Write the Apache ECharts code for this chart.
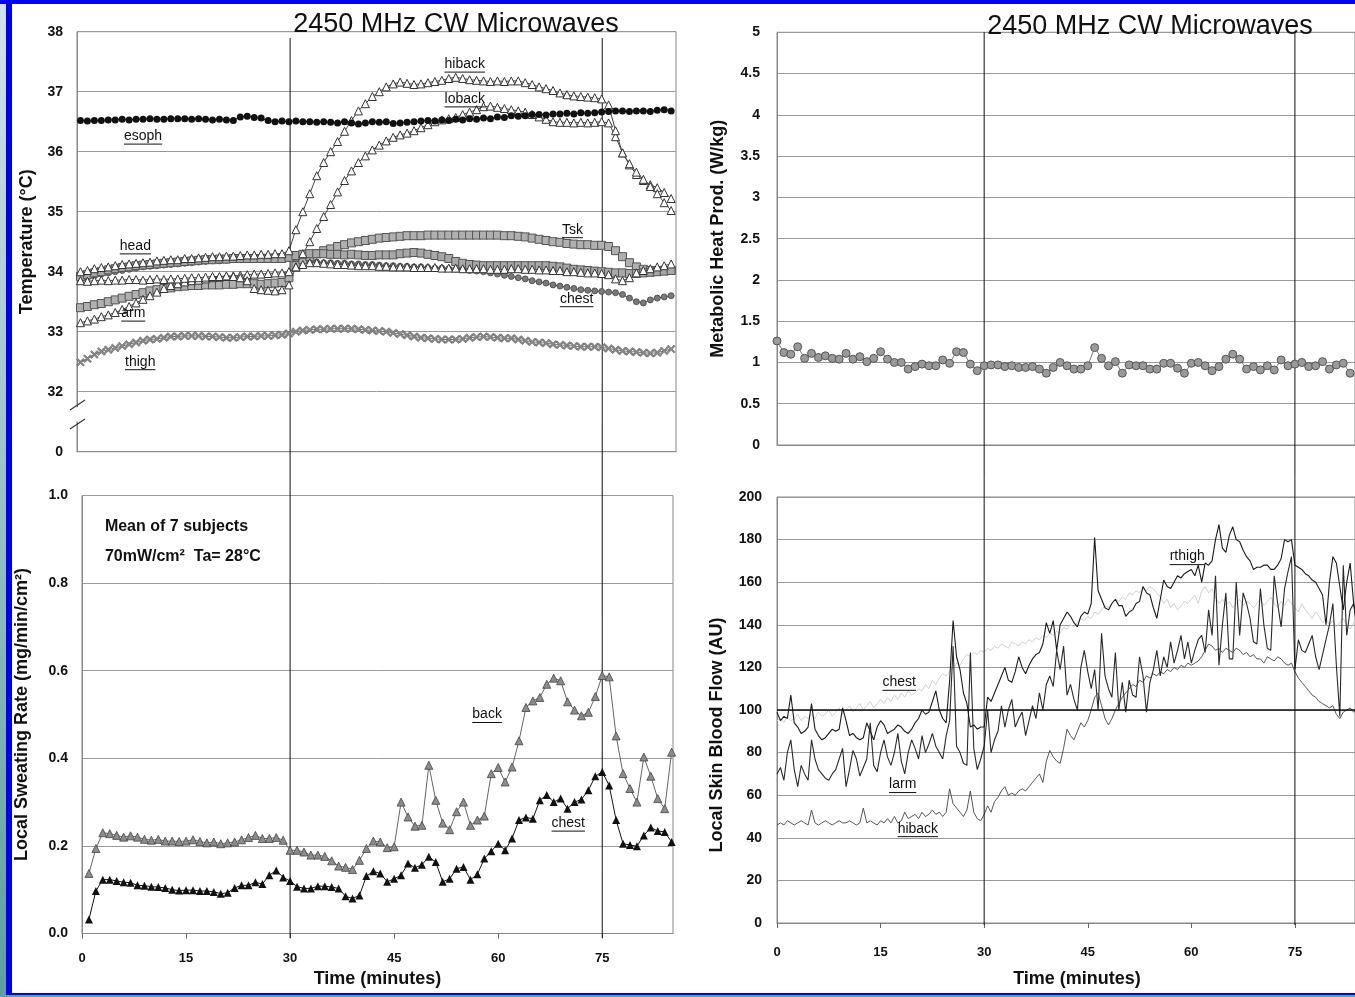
<!DOCTYPE html>
<html><head><meta charset="utf-8">
<script src="https://cdn.jsdelivr.net/npm/echarts@6/dist/echarts.min.js"></script>
<style>
html,body{margin:0;padding:0;width:1355px;height:997px;overflow:hidden;background:linear-gradient(#d3e2ec,#5f9f9f);}
#topbar{position:absolute;left:0;top:0;width:1355px;height:4px;background:#0000f0;}
#frame{position:absolute;left:6px;top:0;width:1349px;height:995px;box-sizing:border-box;border-left:6px solid #0000f0;border-top:4px solid #0000f0;border-bottom:2px solid #0000f0;background:#fff;}
#chart{position:absolute;left:0;top:0;width:1355px;height:997px;}
</style></head><body><div id="topbar"></div><div id="frame"></div><div id="chart"></div>
<script>
// ---------- DATA ----------
const tempMinutes = Array.from({length: 86}, (_, i) => i);
const tempTickLabels = ['0', '32', '33', '34', '35', '36', '37', '38']; // lowest tick is the broken-axis "0"
const esophTemp = [36.52,36.51,36.52,36.52,36.53,36.53,36.54,36.53,36.54,36.54,
  36.55,36.54,36.54,36.55,36.55,36.55,36.54,36.55,36.54,36.53,
  36.54,36.53,36.52,36.58,36.59,36.57,36.56,36.52,36.5,36.51,
  36.5,36.51,36.5,36.5,36.49,36.5,36.49,36.48,36.5,36.48,
  36.46,36.48,36.5,36.49,36.5,36.47,36.48,36.49,36.5,36.51,
  36.52,36.51,36.53,36.52,36.54,36.53,36.55,36.54,36.56,36.55,
  36.58,36.57,36.6,36.59,36.6,36.62,36.62,36.61,36.63,36.63,
  36.64,36.63,36.65,36.64,36.65,36.66,36.67,36.68,36.68,36.67,
  36.68,36.68,36.67,36.69,36.7,36.68];
const hibackTemp = [34.0,34.02,34.05,34.07,34.08,34.1,34.12,34.13,34.14,34.15,
  34.16,34.18,34.19,34.2,34.2,34.22,34.22,34.23,34.24,34.25,
  34.25,34.26,34.26,34.27,34.28,34.28,34.29,34.29,34.3,34.3,
  34.35,34.7,35.0,35.3,35.6,35.82,36.0,36.17,36.34,36.52,
  36.68,36.8,36.92,37.0,37.08,37.13,37.16,37.14,37.12,37.13,
  37.15,37.17,37.19,37.22,37.24,37.22,37.2,37.19,37.18,37.17,
  37.18,37.17,37.18,37.18,37.15,37.12,37.08,37.05,37.02,36.98,
  36.95,36.93,36.92,36.91,36.9,36.88,36.78,36.35,35.98,35.8,
  35.66,35.54,35.42,35.3,35.15,35.02];
const lobackTemp = [33.85,33.84,33.85,33.86,33.85,33.86,33.86,33.87,33.87,33.86,
  33.87,33.88,33.87,33.88,33.88,33.89,33.9,33.9,33.91,33.92,
  33.92,33.93,33.92,33.9,33.85,33.72,33.7,33.69,33.68,33.7,
  33.78,34.08,34.3,34.5,34.72,34.92,35.12,35.33,35.52,35.68,
  35.82,35.93,36.03,36.11,36.18,36.24,36.28,36.31,36.35,36.4,
  36.45,36.5,36.53,36.55,36.57,36.62,36.66,36.7,36.75,36.76,
  36.74,36.72,36.7,36.68,36.66,36.62,36.58,36.54,36.5,36.49,
  36.49,36.48,36.49,36.48,36.49,36.5,36.48,36.25,35.98,35.78,
  35.62,35.52,35.45,35.4,35.32,35.22];
const armTemp = [33.15,33.18,33.21,33.25,33.28,33.32,33.37,33.42,33.48,33.54,
  33.6,33.66,33.72,33.77,33.8,33.83,33.85,33.86,33.88,33.9,
  33.91,33.92,33.93,33.94,33.95,33.96,33.96,33.97,33.98,33.98,
  34.0,34.08,34.12,34.15,34.15,34.14,34.13,34.12,34.12,34.11,
  34.1,34.1,34.1,34.09,34.09,34.08,34.08,34.08,34.07,34.07,
  34.07,34.07,34.06,34.06,34.06,34.05,34.05,34.05,34.05,34.04,
  34.04,34.04,34.05,34.05,34.04,34.04,34.03,34.03,34.02,34.02,
  34.0,34.0,33.99,33.98,33.98,33.97,33.95,33.88,33.85,33.9,
  33.98,34.02,34.05,34.08,34.1,34.13];
const tskTemp = [33.4,33.42,33.45,33.47,33.5,33.53,33.56,33.59,33.62,33.65,
  33.68,33.7,33.72,33.73,33.75,33.76,33.77,33.77,33.78,33.78,
  33.78,33.79,33.79,33.8,33.8,33.8,33.79,33.8,33.81,33.82,
  33.9,34.1,34.2,34.25,34.3,34.35,34.38,34.42,34.45,34.48,
  34.5,34.52,34.54,34.56,34.57,34.58,34.59,34.6,34.6,34.6,
  34.61,34.61,34.61,34.61,34.61,34.61,34.61,34.61,34.61,34.61,
  34.61,34.6,34.6,34.59,34.58,34.56,34.54,34.52,34.5,34.49,
  34.47,34.46,34.45,34.45,34.44,34.44,34.42,34.35,34.25,34.15,
  34.08,34.04,34.02,34.02,34.02,34.02];
const headTemp = [33.92,33.95,33.98,34.0,34.03,34.05,34.07,34.08,34.1,34.11,
  34.12,34.13,34.14,34.15,34.16,34.17,34.18,34.19,34.2,34.2,
  34.21,34.21,34.22,34.22,34.22,34.22,34.22,34.22,34.22,34.22,
  34.24,34.27,34.29,34.3,34.3,34.3,34.29,34.29,34.28,34.29,
  34.28,34.27,34.27,34.28,34.28,34.28,34.3,34.31,34.32,34.31,
  34.29,34.27,34.25,34.22,34.17,34.14,34.12,34.11,34.1,34.1,
  34.1,34.1,34.1,34.1,34.1,34.1,34.1,34.1,34.09,34.08,
  34.06,34.04,34.03,34.02,34.01,34.0,33.99,33.98,33.98,33.97,
  33.97,33.98,33.99,34.0,34.01,34.02];
const chestTemp = [33.88,33.9,33.93,33.96,33.98,34.0,34.02,34.04,34.06,34.08,
  34.09,34.1,34.11,34.12,34.13,34.14,34.15,34.16,34.17,34.18,
  34.18,34.19,34.2,34.2,34.21,34.21,34.22,34.22,34.23,34.24,
  34.22,34.2,34.18,34.17,34.16,34.15,34.15,34.14,34.14,34.13,
  34.13,34.12,34.12,34.11,34.1,34.1,34.09,34.09,34.08,34.08,
  34.07,34.06,34.06,34.05,34.04,34.04,34.02,34.01,34.0,33.98,
  33.96,33.94,33.92,33.9,33.88,33.85,33.83,33.81,33.78,33.76,
  33.74,33.72,33.7,33.69,33.68,33.67,33.66,33.65,33.62,33.56,
  33.5,33.48,33.53,33.56,33.58,33.6];
const thighTemp = [32.49,32.55,32.62,32.67,32.7,32.73,32.76,32.79,32.82,32.85,
  32.87,32.88,32.9,32.92,32.92,32.93,32.93,32.93,32.92,32.92,
  32.91,32.9,32.9,32.91,32.92,32.92,32.93,32.93,32.94,32.95,
  32.97,33.0,33.02,33.03,33.04,33.04,33.05,33.05,33.05,33.05,
  33.04,33.03,33.02,33.01,33.0,32.98,32.96,32.94,32.92,32.9,
  32.89,32.88,32.87,32.87,32.87,32.88,32.9,32.91,32.92,32.91,
  32.9,32.89,32.89,32.87,32.85,32.83,32.82,32.81,32.79,32.78,
  32.77,32.76,32.75,32.75,32.75,32.74,32.72,32.7,32.68,32.67,
  32.66,32.65,32.64,32.65,32.68,32.71];

const sweatMinutes = Array.from({length: 85}, (_, i) => i + 1);
const sweatTickLabels = ['0.0', '0.2', '0.4', '0.6', '0.8', '1.0'];
const backSweat = [.137,.194,.23,.228,.224,.22,.223,.22,.215,.213,
  .215,.211,.211,.21,.211,.214,.21,.207,.209,.205,
  .207,.209,.214,.219,.224,.217,.217,.219,.213,.19,
  .19,.186,.179,.179,.176,.166,.154,.151,.146,.167,
  .194,.211,.209,.196,.198,.30,.266,.245,.247,.384,
  .304,.252,.237,.278,.30,.247,.259,.268,.365,.379,
  .346,.38,.44,.516,.531,.539,.569,.583,.577,.529,
  .51,.497,.505,.541,.589,.586,.451,.365,.331,.30,
  .403,.359,.308,.285,.414];
const chestSweat = [.032,.097,.123,.123,.120,.117,.116,.110,.109,.107,
  .106,.104,.100,.098,.099,.099,.097,.097,.095,.091,
  .093,.104,.110,.110,.117,.113,.133,.144,.128,.120,
  .107,.103,.103,.108,.108,.106,.103,.085,.080,.087,
  .131,.142,.137,.118,.125,.133,.160,.150,.157,.175,
  .163,.118,.125,.148,.152,.123,.135,.171,.188,.205,
  .190,.217,.259,.265,.262,.304,.316,.300,.308,.285,
  .300,.306,.327,.359,.369,.338,.259,.205,.202,.199,
  .224,.242,.234,.232,.209];

const metabMinutes = Array.from({length: 84}, (_, i) => i);
const metabTickLabels = ['0', '0.5', '1', '1.5', '2', '2.5', '3', '3.5', '4', '4.5', '5'];
const metabHeat = [1.26,1.12,1.10,1.19,1.05,1.11,1.06,1.08,1.05,1.04,
  1.11,1.04,1.07,1.01,1.05,1.13,1.04,1.00,1.00,0.92,
  0.95,0.98,0.96,0.96,1.03,0.99,1.13,1.12,0.98,0.90,
  0.96,0.97,0.97,0.95,0.96,0.94,0.94,0.95,0.92,0.87,
  0.94,1.00,0.96,0.92,0.92,0.96,1.18,1.05,0.96,1.01,
  0.87,0.97,0.96,0.96,0.92,0.92,0.99,0.99,0.93,0.87,
  0.99,1.00,0.96,0.90,0.95,1.04,1.10,1.04,0.92,0.95,
  0.91,0.96,0.91,1.03,0.96,0.98,1.00,0.95,0.96,1.01,
  0.92,0.97,0.99,0.87];

const flowMinutes = Array.from({length: 170}, (_, i) => i * 0.5);
const flowTickLabels = ['0', '20', '40', '60', '80', '100', '120', '140', '160', '180', '200'];
const timeTickLabels = ['0', '15', '30', '45', '60', '75', '90'];
const hibackFlow = [46,47,46,48,47,46,47,48,47,46, 53,47,46,47,48,47,46,47,48,47,
  47,48,47,46,47,54,47,48,47,46, 48,47,49,47,50,47,48,52,49,50,
  51,49,52,50,51,53,51,52,50,52, 63,56,54,52,50,53,62,52,49,48,
  51,55,52,57,59,62,64,60,61,60, 62,63,62,64,66,68,70,66,76,81,
  78,76,75,82,91,88,86,90,94,92, 95,100,106,108,102,96,93,96,100,103,
  106,108,110,112,111,114,113,116,115,117, 116,118,117,119,118,120,119,121,120,122,
  121,122,123,125,128,131,130,128,129,127, 129,128,127,129,128,126,127,125,126,124,
  124,122,125,124,123,125,124,122,121,122, 118,115,113,111,109,107,106,104,103,102,
  101,102,98,96,99,100,101,99,100,100];
const rthighFlow = [99,95,97,96,107,94,92,89,90,92, 103,91,88,86,87,89,91,90,91,101,
  95,88,89,87,86,87,94,90,86,92, 95,93,89,90,91,93,92,90,89,91,
  94,96,100,98,99,104,109,100,96,94, 114,142,125,119,108,103,92,93,91,92,
  92,106,104,108,112,116,120,114,113,118, 125,120,117,121,124,126,127,131,141,136,
  142,128,140,143,146,144,141,139,144,146, 145,150,181,156,152,148,147,150,152,149,
  149,144,146,147,150,151,158,155,154,148, 143,152,161,158,157,160,163,162,164,165,
  166,163,168,160,169,168,170,180,187,176, 174,182,186,180,179,175,172,170,166,167,
  167,168,168,166,166,168,171,180,179,180, 168,167,166,164,163,161,160,157,154,140,
  160,172,169,158,147,160,169,150,140,148];
const larmFlow = [70,73,67,80,86,72,64,74,70,67, 86,77,72,70,68,67,70,72,77,82,
  64,72,81,77,69,73,77,94,74,71, 80,86,78,74,80,89,76,70,80,86,
  82,77,88,80,84,89,83,80,77,88, 95,130,83,80,75,74,127,82,72,77,
  83,100,80,86,90,102,92,100,105,92, 96,99,88,95,102,96,108,100,112,116,
  111,128,119,130,107,112,105,100,120,128, 118,110,119,100,136,116,110,106,127,100,
  113,99,114,107,106,125,116,99,113,119, 128,116,125,120,132,122,128,135,124,132,
  122,128,133,135,127,147,135,163,121,140, 155,124,124,160,135,155,150,143,132,131,
  157,140,129,128,163,150,139,157,165,172, 119,133,128,127,131,135,125,119,126,133,
  140,150,121,97,168,135,147,150,138,145];
const chestFlow = [95,96,94,97,95,96,98,95,97,96, 98,96,99,97,98,100,97,99,101,98,
  100,102,99,101,103,100,102,104,101,103, 105,103,106,104,107,105,108,106,109,107,
  108,110,109,112,110,114,112,115,117,116, 118,120,122,121,124,126,125,127,126,128,
  127,129,128,130,129,131,130,129,132,131, 130,132,131,133,132,134,133,135,134,136,
  135,137,136,139,138,140,139,141,143,142, 144,143,146,145,147,149,148,150,152,151,
  153,152,155,154,156,155,157,156,158,157, 155,153,150,152,148,150,147,149,151,150,
  152,154,150,156,158,155,157,153,150,152, 149,151,148,150,152,149,151,150,148,150,
  152,149,151,153,150,148,151,149,152,150, 148,146,150,147,145,143,146,144,141,143,
  140,142,139,141,143,140,138,141,139,140];

const exposureMarks = [30, 75];
const titleText = '2450 MHz CW Microwaves';

const annotations = [
  {g: 0, t: 55.3, v: 37.46, text: 'hiback'},
  {g: 0, t: 55.3, v: 36.88, text: 'loback'},
  {g: 0, t: 9.0, v: 36.26, text: 'esoph'},
  {g: 0, t: 7.9, v: 34.43, text: 'head'},
  {g: 0, t: 70.8, v: 34.70, text: 'Tsk'},
  {g: 0, t: 71.4, v: 33.55, text: 'chest'},
  {g: 0, t: 7.6, v: 33.31, text: 'arm'},
  {g: 0, t: 8.6, v: 32.50, text: 'thigh'},
  {g: 1, t: 58.4, v: 0.50, text: 'back'},
  {g: 1, t: 70.1, v: 0.252, text: 'chest'},
  {g: 3, t: 59.4, v: 172, text: 'rthigh'},
  {g: 3, t: 17.7, v: 113, text: 'chest'},
  {g: 3, t: 18.2, v: 65, text: 'larm'},
  {g: 3, t: 20.4, v: 44.3, text: 'hiback'}
];
const notes = [
  {g: 1, t: 3.3, v: 0.930, text: 'Mean of 7 subjects'},
  {g: 1, t: 3.3, v: 0.860, text: '70mW/cm\u00B2  Ta= 28\u00B0C'}
];

// ---------- CHART ----------
const FF = '"Liberation Sans", Arial, sans-serif';
const pairs = (ts, vs) => ts.map((t, i) => [t, vs[i]]);
const tick = {color: '#111', fontWeight: 'bold', fontSize: 14, fontFamily: FF};
const nameStyle = {color: '#111', fontWeight: 'bold', fontSize: 18, fontFamily: FF};
const gridLine = {show: true, lineStyle: {color: '#9a9a9a', width: 1}};
const axLine = {show: true, onZero: false, lineStyle: {color: '#888', width: 1}};
const xPath = 'path://M0,1.5L1.5,0L5,3.5L8.5,0L10,1.5L6.5,5L10,8.5L8.5,10L5,6.5L1.5,10L0,8.5L3.5,5Z';
const RIGHT_MAX = 83.7; // the right-hand panels are cut off by the picture edge

function lineSeries(name, xi, data, opt) {
  return Object.assign({
    type: 'line', name, xAxisIndex: xi, yAxisIndex: xi, data,
    showSymbol: true, animation: false, silent: true,
  }, opt);
}

const series = [
  lineSeries('thigh', 0, pairs(tempMinutes, thighTemp), {symbol: xPath, symbolSize: 8,
    itemStyle: {color: '#8a8a8a', borderColor: '#555', borderWidth: 0.5}, lineStyle: {color: '#777', width: 1}}),
  lineSeries('chest', 0, pairs(tempMinutes, chestTemp), {symbol: 'circle', symbolSize: 6,
    itemStyle: {color: '#7a7a7a', borderColor: '#444', borderWidth: 0.8}, lineStyle: {color: '#555', width: 1}}),
  lineSeries('Tsk', 0, pairs(tempMinutes, tskTemp), {symbol: 'rect', symbolSize: 8,
    itemStyle: {color: '#b0b0b0', borderColor: '#555', borderWidth: 1}, lineStyle: {color: '#666', width: 1}}),
  lineSeries('head', 0, pairs(tempMinutes, headTemp), {symbol: 'rect', symbolSize: 8,
    itemStyle: {color: '#a8a8a8', borderColor: '#555', borderWidth: 1}, lineStyle: {color: '#666', width: 1}}),
  lineSeries('arm', 0, pairs(tempMinutes, armTemp), {symbol: 'triangle', symbolSize: 8,
    itemStyle: {color: '#fff', borderColor: '#333', borderWidth: 1}, lineStyle: {color: '#444', width: 1}}),
  lineSeries('loback', 0, pairs(tempMinutes, lobackTemp), {symbol: 'triangle', symbolSize: 8,
    itemStyle: {color: '#fff', borderColor: '#333', borderWidth: 1}, lineStyle: {color: '#444', width: 1}}),
  lineSeries('hiback', 0, pairs(tempMinutes, hibackTemp), {symbol: 'triangle', symbolSize: 8,
    itemStyle: {color: '#fff', borderColor: '#333', borderWidth: 1}, lineStyle: {color: '#444', width: 1}}),
  lineSeries('esoph', 0, pairs(tempMinutes, esophTemp), {symbol: 'circle', symbolSize: 7,
    itemStyle: {color: '#111'}, lineStyle: {color: '#111', width: 1}}),

  lineSeries('back', 1, pairs(sweatMinutes, backSweat), {symbol: 'triangle', symbolSize: 8,
    itemStyle: {color: '#8c8c8c', borderColor: '#444', borderWidth: 0.8}, lineStyle: {color: '#666', width: 1}}),
  lineSeries('chest sweat', 1, pairs(sweatMinutes, chestSweat), {symbol: 'triangle', symbolSize: 8,
    itemStyle: {color: '#111'}, lineStyle: {color: '#111', width: 1}}),

  lineSeries('metabolic', 2, pairs(metabMinutes, metabHeat), {symbol: 'circle', symbolSize: 8,
    itemStyle: {color: '#9a9a9a', borderColor: '#555', borderWidth: 1}, lineStyle: {color: '#777', width: 1}}),

  lineSeries('chest flow', 3, pairs(flowMinutes, chestFlow), {symbol: 'none', lineStyle: {color: '#d0d0d0', width: 1}}),
  lineSeries('larm', 3, pairs(flowMinutes, larmFlow), {symbol: 'none', lineStyle: {color: '#2a2a2a', width: 1.1}}),
  lineSeries('rthigh', 3, pairs(flowMinutes, rthighFlow), {symbol: 'none', lineStyle: {color: '#1a1a1a', width: 1.1}}),
  lineSeries('hiback flow', 3, pairs(flowMinutes, hibackFlow), {symbol: 'none', lineStyle: {color: '#444', width: 0.9},
    markLine: {symbol: 'none', silent: true, label: {show: false}, animation: false,
      lineStyle: {color: '#111', type: 'solid', width: 1.5}, data: [{yAxis: 100}]}})
];
exposureMarks.forEach(m => {
  series.push(lineSeries('exp-left-' + m, 4, [[m, 0], [m, 1]], {symbol: 'none', lineStyle: {color: '#111', width: 1}}));
  series.push(lineSeries('exp-right-' + m, 5, [[m, 0], [m, 1]], {symbol: 'none', lineStyle: {color: '#111', width: 1}}));
});

const option = {
  backgroundColor: 'transparent',
  animation: false,
  title: [
    {text: titleText, left: 451, top: 6, textAlign: 'center',
      textStyle: {fontFamily: FF, fontWeight: 'normal', fontSize: 27, color: '#111'}},
    {text: titleText, left: 1145, top: 8, textAlign: 'center',
      textStyle: {fontFamily: FF, fontWeight: 'normal', fontSize: 27, color: '#111'}}
  ],
  grid: [
    {left: 77, top: 31.7, width: 599, height: 420, show: true, borderColor: '#888', borderWidth: 1},
    {left: 82, top: 495.5, width: 591, height: 438, show: true, borderColor: '#888', borderWidth: 1},
    {left: 777, top: 32.3, right: 0, height: 412.7, show: true, borderColor: '#888', borderWidth: 1},
    {left: 777, top: 497, right: 0, height: 426, show: true, borderColor: '#888', borderWidth: 1},
    {left: 82, top: 38, width: 591, height: 900},
    {left: 777, top: 32, right: 0, height: 893}
  ],
  xAxis: [
    {gridIndex: 0, type: 'value', min: -0.5, max: 85.7, axisLine: axLine, axisTick: {show: false},
      axisLabel: {show: false}, splitLine: {show: false}},
    {gridIndex: 1, type: 'value', min: 0, max: 85.2, interval: 15, axisLine: axLine,
      axisTick: {show: true, length: 5, lineStyle: {color: '#666'}},
      axisLabel: Object.assign({}, tick, {fontSize: 13, margin: 18, showMaxLabel: false,
        formatter: v => timeTickLabels[Math.round(v / 15)]}),
      splitLine: {show: false},
      name: 'Time (minutes)', nameLocation: 'middle', nameGap: 37, nameTextStyle: nameStyle},
    {gridIndex: 2, type: 'value', min: 0, max: RIGHT_MAX, axisLine: axLine, axisTick: {show: false},
      axisLabel: {show: false}, splitLine: {show: false}},
    {gridIndex: 3, type: 'value', min: 0, max: RIGHT_MAX, interval: 15, axisLine: axLine,
      axisTick: {show: true, length: 5, lineStyle: {color: '#666'}},
      axisLabel: Object.assign({}, tick, {fontSize: 13, margin: 23, showMaxLabel: false,
        formatter: v => timeTickLabels[Math.round(v / 15)]}),
      splitLine: {show: false},
      name: 'Time (minutes)', nameLocation: 'middle', nameGap: 47,
      nameTextStyle: Object.assign({}, nameStyle, {padding: [0, 0, 0, 22]})},
    {gridIndex: 4, type: 'value', min: 0, max: 85.2, show: false},
    {gridIndex: 5, type: 'value', min: 0, max: RIGHT_MAX, show: false}
  ],
  yAxis: [
    {gridIndex: 0, type: 'value', min: 31, max: 38, interval: 1, axisLine: axLine, axisTick: {show: false},
      axisLabel: Object.assign({}, tick, {margin: 14, formatter: v => tempTickLabels[Math.round(v) - 31]}),
      splitLine: gridLine, name: 'Temperature (\u00B0C)', nameLocation: 'middle', nameGap: 41, nameTextStyle: nameStyle},
    {gridIndex: 1, type: 'value', min: 0, max: 1, interval: 0.2, axisLine: axLine, axisTick: {show: false},
      axisLabel: Object.assign({}, tick, {margin: 14, formatter: v => sweatTickLabels[Math.round(v / 0.2)]}),
      splitLine: gridLine, name: 'Local Sweating Rate (mg/min/cm\u00B2)', nameLocation: 'middle', nameGap: 51,
      nameTextStyle: nameStyle},
    {gridIndex: 2, type: 'value', min: 0, max: 5, interval: 0.5, axisLine: axLine, axisTick: {show: false},
      axisLabel: Object.assign({}, tick, {margin: 17, formatter: v => metabTickLabels[Math.round(v / 0.5)]}),
      splitLine: gridLine, name: 'Metabolic Heat Prod. (W/kg)', nameLocation: 'middle', nameGap: 50,
      nameTextStyle: nameStyle},
    {gridIndex: 3, type: 'value', min: 0, max: 200, interval: 20, axisLine: axLine, axisTick: {show: false},
      axisLabel: Object.assign({}, tick, {margin: 15, formatter: v => flowTickLabels[Math.round(v / 20)]}),
      splitLine: gridLine},
    {gridIndex: 4, type: 'value', min: 0, max: 1, show: false},
    {gridIndex: 5, type: 'value', min: 0, max: 1, show: false}
  ],
  series
};

const chart = echarts.init(document.getElementById('chart'), null, {renderer: 'canvas'});
chart.setOption(option);

// annotations (underlined labels), notes, broken-axis marks, right axis title
const ctx = document.createElement('canvas').getContext('2d');
const annFont = '14px "Liberation Sans", Arial, sans-serif';
ctx.font = annFont;
const graphics = [];
annotations.forEach(a => {
  const p = chart.convertToPixel({gridIndex: a.g}, [a.t, a.v]);
  const w = ctx.measureText(a.text).width;
  graphics.push({type: 'text', x: p[0], y: p[1], z: 100,
    style: {text: a.text, font: annFont, fill: '#111', align: 'center', verticalAlign: 'middle',
      textAlign: 'center', textVerticalAlign: 'middle'}});
  graphics.push({type: 'line', z: 100, shape: {x1: p[0] - w / 2, y1: p[1] + 8, x2: p[0] + w / 2, y2: p[1] + 8},
    style: {stroke: '#111', lineWidth: 1}});
});
notes.forEach(n => {
  const p = chart.convertToPixel({gridIndex: n.g}, [n.t, n.v]);
  graphics.push({type: 'text', x: p[0], y: p[1], z: 100,
    style: {text: n.text, font: 'bold 16px "Liberation Sans", Arial, sans-serif', fill: '#111',
      align: 'left', verticalAlign: 'middle', textAlign: 'left', textVerticalAlign: 'middle'}});
});
[31.78, 31.46].forEach(v => {
  const p = chart.convertToPixel({gridIndex: 0}, [-0.5, v]);
  graphics.push({type: 'line', z: 100, shape: {x1: p[0] - 7, y1: p[1] + 5, x2: p[0] + 8, y2: p[1] - 5},
    style: {stroke: '#333', lineWidth: 1.2}});
});
{
  const top = chart.convertToPixel({gridIndex: 0}, [-0.5, 31.74]);
  const bot = chart.convertToPixel({gridIndex: 0}, [-0.5, 31.5]);
  graphics.push({type: 'rect', z: 99, shape: {x: top[0] - 1.5, y: top[1], width: 3, height: bot[1] - top[1]},
    style: {fill: '#fff'}});
}
graphics.push({type: 'text', x: 717, y: 735, rotation: Math.PI / 2, z: 100,
  style: {text: 'Local Skin Blood Flow (AU)', font: 'bold 18px "Liberation Sans", Arial, sans-serif', fill: '#111',
    align: 'center', verticalAlign: 'middle', textAlign: 'center', textVerticalAlign: 'middle'}});
chart.setOption({graphic: {elements: graphics}});
</script></body></html>
